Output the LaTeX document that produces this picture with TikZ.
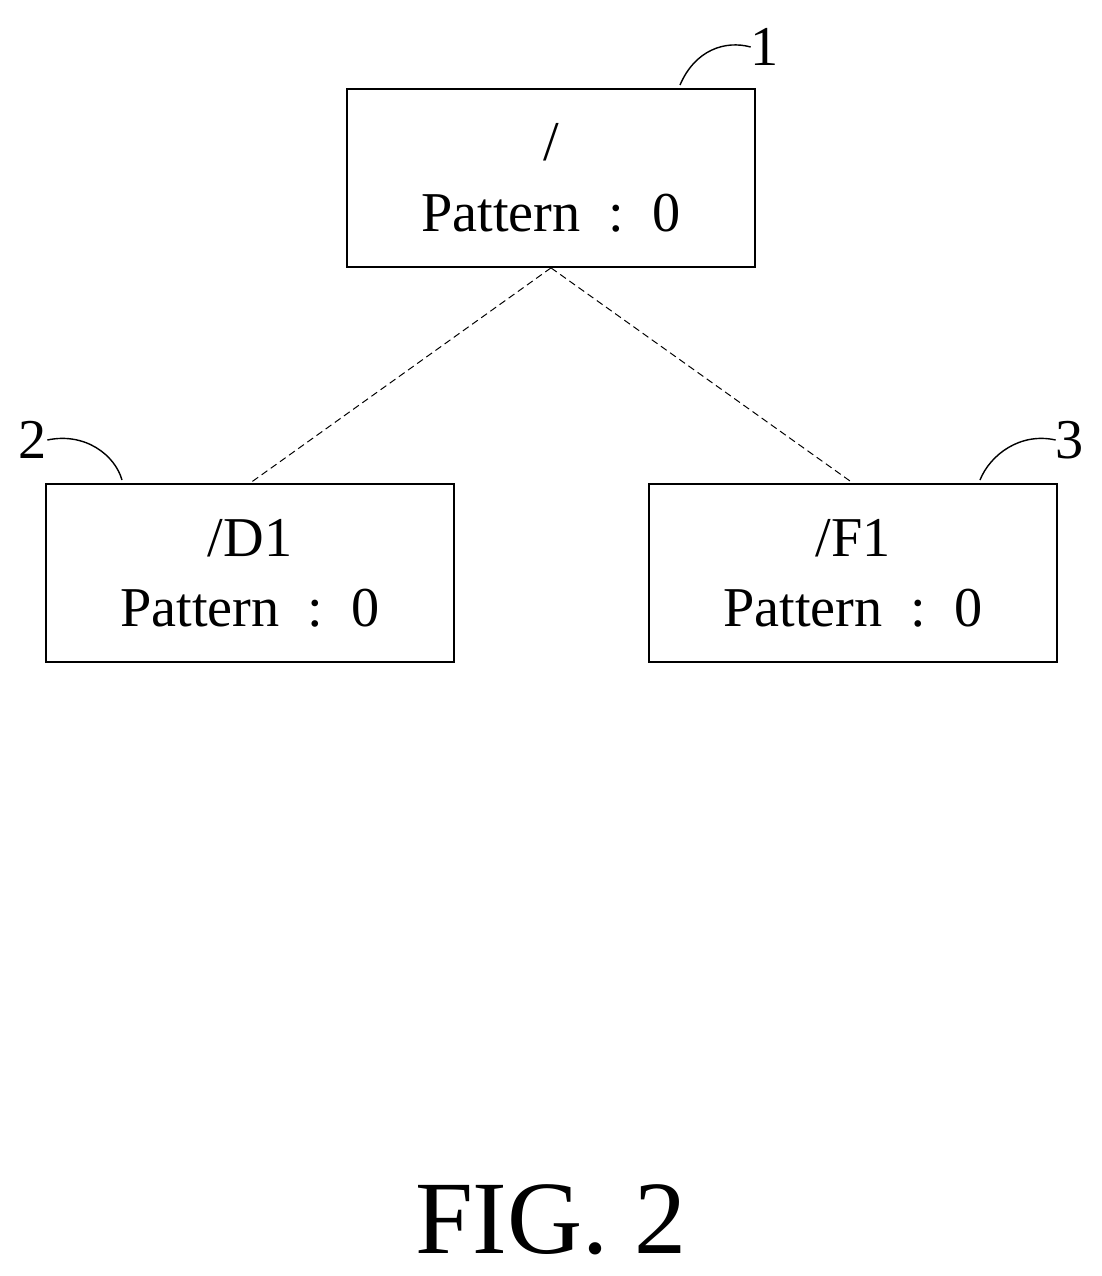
\documentclass[tikz,border=0pt]{standalone}
\usepackage{fontspec}
\setmainfont{Liberation Serif}
\begin{document}
\begin{tikzpicture}[x=0.025cm, y=-0.025cm,
    box/.style={draw, line width=1.2pt, minimum width=10.2cm, minimum height=4.45cm,
                align=center, font=\fontsize{40}{50}\selectfont, inner sep=0pt},
    link/.style={dashed, line width=0.7pt, dash pattern=on 5pt off 3pt},
    lead/.style={line width=1pt},
    tag/.style={font=\fontsize{40}{42}\selectfont, inner sep=0pt}]
      \useasboundingbox (0, 0) rectangle (1102, 1276);
      \node (root) [box] at (551, 178) {/\\Pattern\enspace:\enspace0};
      \node (dir) [box] at (250, 573) {/D1\\Pattern\enspace:\enspace0};
      \node (file) [box] at (853, 573) {/F1\\Pattern\enspace:\enspace0};
      \draw[link] (root.south) -- (dir.north)
                  (root.south) -- (file.north);
      % reference numerals
      \node (n1) [tag] at (765, 47) {1};
      \node (n2) [tag] at (33, 440) {2};
      \node (n3) [tag] at (1070, 440) {3};
      \coordinate (c1) at (680, 85);
      \coordinate (c2) at (122, 480);
      \coordinate (c3) at (980, 480);
      \draw[lead] (c1) .. controls (695, 50) and (725, 40) .. (n1.west);
      \draw[lead] (n2.east) .. controls (85, 432) and (115, 455) .. (c2);
      \draw[lead] (c3) .. controls (990, 455) and (1020, 432) .. (n3.west);
      \node (fig) [font=\fontsize{74}{80}\selectfont] at (551, 1220) {FIG. 2};
\end{tikzpicture}
\end{document}
